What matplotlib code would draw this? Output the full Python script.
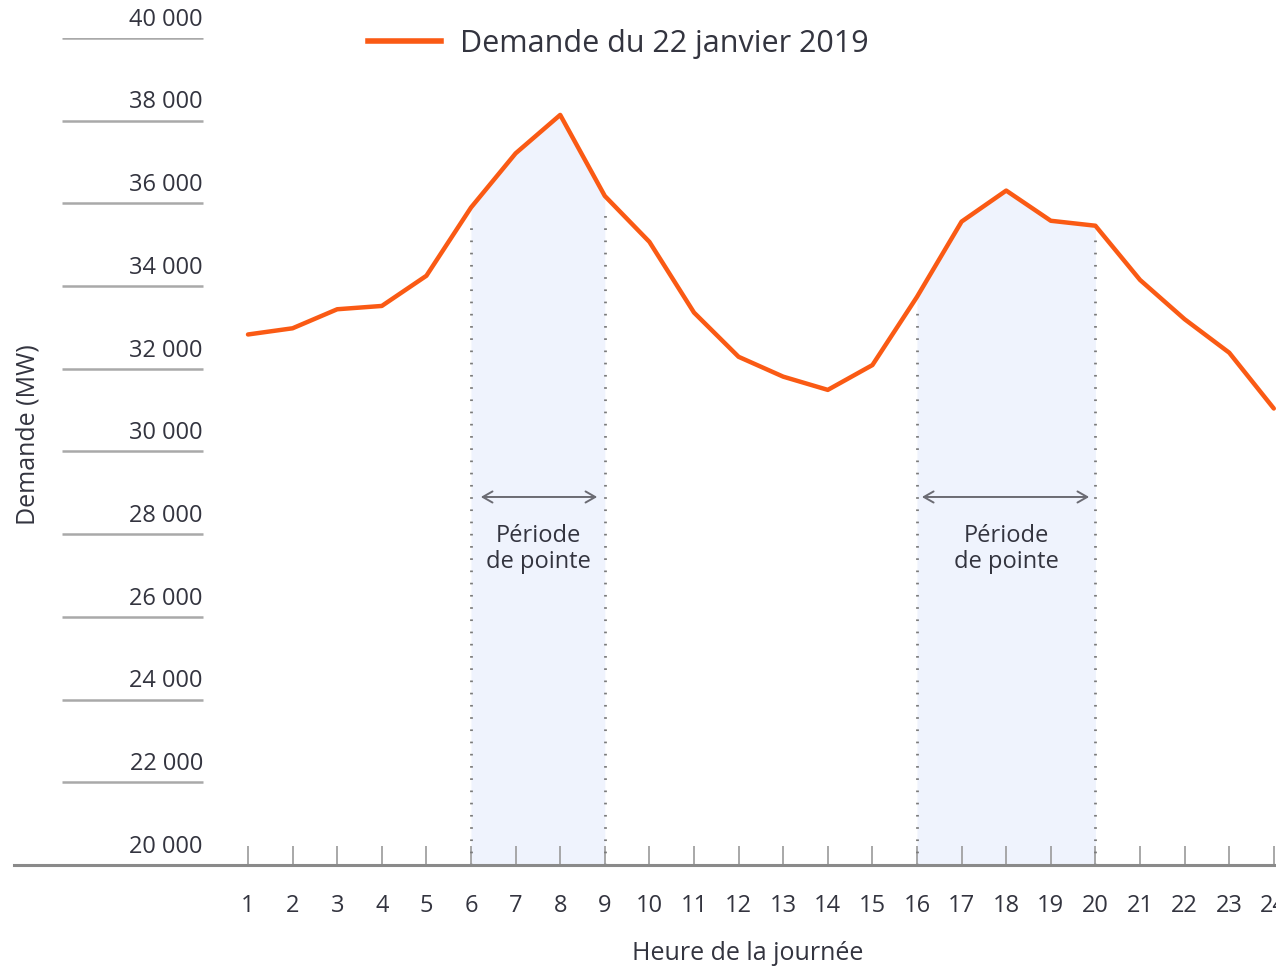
import matplotlib
matplotlib.use("Agg")
import matplotlib.pyplot as plt
from matplotlib.lines import Line2D

plt.rcParams["font.family"] = ["Open Sans", "DejaVu Sans"]

# data
hours = list(range(1, 25))
demand = [32830, 32980, 33440, 33520, 34250, 35900, 37210, 38140, 36180, 35070,
          33360, 32290, 31810, 31490, 32090, 33740, 35560, 36310, 35580, 35460,
          34150, 33200, 32390, 31040]
y_ticks = [20000, 22000, 24000, 26000, 28000, 30000, 32000, 34000, 36000, 38000, 40000]
peak_periods = [(6, 9), (16, 20)]
peak_label = "Période\nde pointe"
legend_label = "Demande du 22 janvier 2019"

TEXT = "#33343f"
ORANGE = "#fa5a14"
GRAY = "#7a7a7a"
FILL = "#eff3fd"

W, H = 1276, 967
fig = plt.figure(figsize=(W / 100, H / 100), dpi=100)
ax = fig.add_axes([14 / W, 1 - 865 / H, 1 - 14 / W, (865 - 38) / H])

x_px0, dx = 248, 44.6  # pixel of hour 1, pixel per hour
ax.set_xlim(1 + (14 - x_px0) / dx, 1 + (W - x_px0) / dx)
ax.set_ylim(20000, 40000)

# peak shading + dotted edges
for a, b in peak_periods:
    hs = [h for h in hours if a <= h <= b]
    vs = [demand[h - 1] for h in hs]
    ax.fill_between(hs, 20000, vs, color=FILL, lw=0, zorder=1)
    for h in (a, b):
        ax.vlines(h, 20000, demand[h - 1] - 250, colors=GRAY, lw=2.0,
                  linestyles=(0, (0.6, 3.8)), zorder=2)
    # arrow + label
    xa = a + 0.22 if b - a == 3 else a + 0.11
    xb = b - 0.17 if b - a == 3 else b - 0.14
    ax.annotate("", xy=(xb, 28900), xytext=(xa, 28900),
                arrowprops=dict(arrowstyle="<->,head_length=0.7,head_width=0.4",
                                color="#6b6b73", lw=1.4, shrinkA=0, shrinkB=0))
    ax.text((a + b) / 2 + (0.02 if b - a == 3 else 0), 27640, peak_label,
            ha="center", va="center", fontsize=17, color=TEXT, linespacing=1.15)

# demand line
ax.plot(hours, demand, color=ORANGE, lw=3.2, solid_joinstyle="round",
        solid_capstyle="round", zorder=3, clip_on=False)

# y-axis: short rules with labels above
x_rule0 = 1 + (62 - x_px0) / dx
x_rule1 = 1 + (203 - x_px0) / dx
ax.hlines(y_ticks[1:], x_rule0, x_rule1, colors="#a9a9a9", lw=1.8, zorder=2)
for v in y_ticks:
    ax.text(x_rule1, v + 150, f"{v:,}".replace(",", " "), ha="right", va="bottom",
            fontsize=17, color=TEXT)

# x-axis
for s in ["top", "right", "left"]:
    ax.spines[s].set_visible(False)
ax.spines["bottom"].set_color("#8a8a8a")
ax.spines["bottom"].set_linewidth(2.2)
ax.set_yticks([])
ax.set_xticks(hours)
ax.set_xticklabels([str(h) for h in hours], fontsize=17, color=TEXT)
ax.tick_params(axis="x", direction="in", length=14, width=1.2, color="#9a9a9a", pad=21)
ax.patch.set_alpha(0)

fig.text(748 / W, 1 - 953 / H, "Heure de la journée", ha="center", va="center",
         fontsize=18, color=TEXT)
fig.text(28 / W, 1 - 435 / H, "Demande (MW)", ha="center", va="center",
         rotation=90, fontsize=18, color=TEXT)

handle = Line2D([], [], color=ORANGE, lw=4)
fig.legend([handle], [legend_label], loc="center left",
           bbox_to_anchor=(368 / W, 1 - 44 / H), frameon=False, fontsize=22,
           handlelength=2.4, handletextpad=0.6, borderpad=0, borderaxespad=0,
           labelcolor=TEXT)

fig.savefig("out.png", dpi=100)
